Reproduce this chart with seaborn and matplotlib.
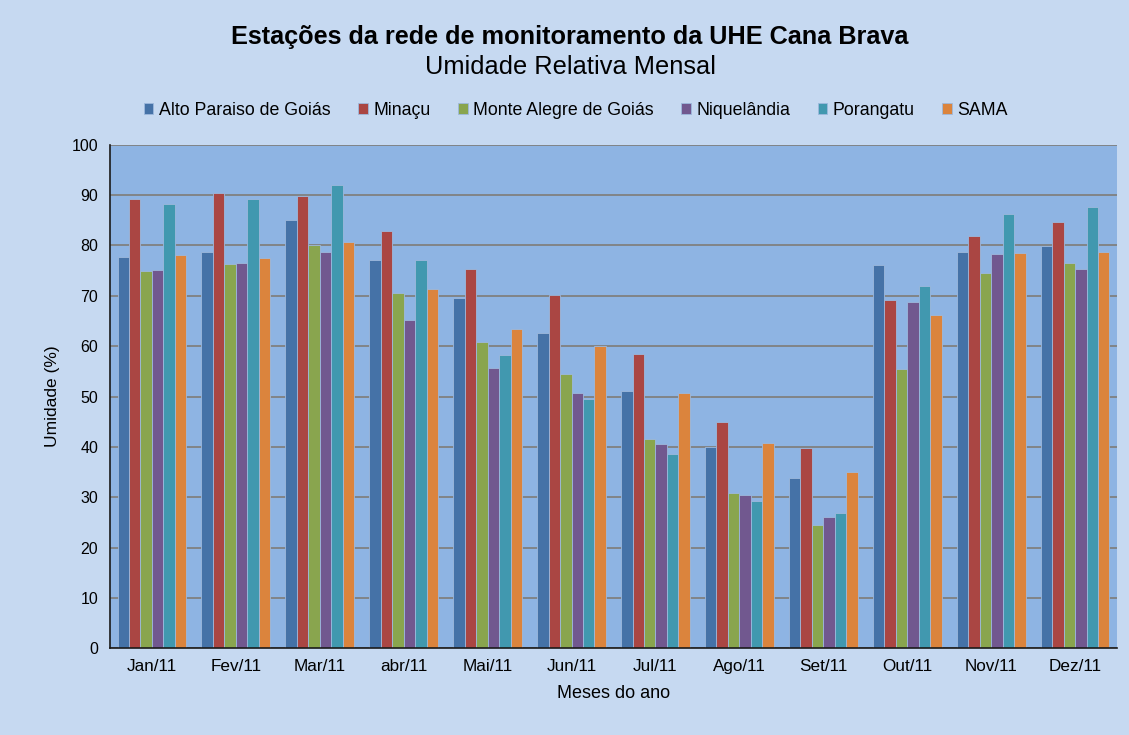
import pandas as pd
import numpy as np
import matplotlib
matplotlib.use("Agg")
import matplotlib.pyplot as plt
import seaborn as sns

meses = ["Jan/11", "Fev/11", "Mar/11", "abr/11", "Mai/11", "Jun/11",
         "Jul/11", "Ago/11", "Set/11", "Out/11", "Nov/11", "Dez/11"]
estacoes = ["Alto Paraiso de Goiás", "Minaçu", "Monte Alegre de Goiás",
            "Niquelândia", "Porangatu", "SAMA"]

alto_paraiso = [77.7, 78.8, 85.0, 77.1, 69.6, 62.7, 51.0, 40.0, 33.8, 76.1, 78.8, 79.9]
minacu = [89.3, 90.4, 89.9, 82.8, 75.3, 70.1, 58.4, 44.9, 39.7, 69.2, 81.8, 84.7]
monte_alegre = [75.0, 76.3, 80.0, 70.6, 60.8, 54.5, 41.6, 30.8, 24.5, 55.4, 74.5, 76.5]
niquelandia = [75.2, 76.6, 78.8, 65.2, 55.6, 50.8, 40.5, 30.5, 26.1, 68.7, 78.3, 75.3]
porangatu = [88.2, 89.3, 92.0, 77.1, 58.3, 49.6, 38.6, 29.2, 26.9, 72.0, 86.3, 87.6]
sama = [78.2, 77.6, 80.6, 71.4, 63.5, 60.0, 50.8, 40.7, 35.1, 66.2, 78.5, 78.8]

cores = ["#4572A7", "#AA4643", "#89A54E", "#71588F", "#4198AF", "#DB843D"]

series = [alto_paraiso, minacu, monte_alegre, niquelandia, porangatu, sama]
rows = []
for est, vals in zip(estacoes, series):
    for m, v in zip(meses, vals):
        rows.append({"mes": m, "estacao": est, "umidade": v})
df = pd.DataFrame(rows)

sns.set_style("white")
plt.rcParams['font.family'] = ['Liberation Sans', 'DejaVu Sans']
plt.rcParams['text.color'] = 'black'
plt.rcParams['axes.labelcolor'] = 'black'
plt.rcParams['xtick.color'] = 'black'
plt.rcParams['ytick.color'] = 'black'

fig = plt.figure(figsize=(11.29, 7.35), dpi=100)
fig.patch.set_facecolor("#C6D9F1")
ax = fig.add_axes([0.0974, 0.118, 0.892, 0.685])
ax.set_facecolor("#8EB4E3")

sns.barplot(data=df, x="mes", y="umidade", hue="estacao", order=meses,
            hue_order=estacoes, palette=cores, width=0.82, gap=0,
            saturation=1, edgecolor="#9DB9DD", linewidth=0.6, ax=ax, legend=True)

ax.set_ylim(0, 100)
ax.set_xlim(-0.5, 11.5)
ax.set_yticks(np.arange(0, 101, 10))
ax.yaxis.grid(True, color="#808080", linewidth=1.3)
ax.set_axisbelow(True)

for side in ["top", "right"]:
    ax.spines[side].set_visible(False)
for side in ["left", "bottom"]:
    ax.spines[side].set_color("#1a1a1a")
    ax.spines[side].set_linewidth(1.2)

ax.tick_params(axis="x", which="major", length=0, labelsize=12.3, pad=8)
ax.set_xticks(np.arange(-0.5, 12, 1), minor=True)
ax.tick_params(axis="x", which="minor", length=5, direction="out", color="#1a1a1a")
ax.tick_params(axis="y", length=5, direction="out", color="#1a1a1a", labelsize=11.5)

ax.set_xlabel("Meses do ano", fontsize=13, labelpad=8)
ax.set_ylabel("Umidade (%)", fontsize=12.5, labelpad=8)

handles, labels = ax.get_legend_handles_labels()
ax.get_legend().remove()
fig.legend(handles, labels, loc="center", bbox_to_anchor=(0.51, 0.85),
           ncol=6, frameon=False, fontsize=12.8, handlelength=0.55,
           handleheight=0.55, handletextpad=0.3, columnspacing=1.55)

fig.text(0.505, 0.949, "Estações da rede de monitoramento da UHE Cana Brava",
         ha="center", va="center", fontsize=18.2, fontweight="bold")
fig.text(0.505, 0.909, "Umidade Relativa Mensal", ha="center", va="center",
         fontsize=18.3)

fig.savefig("out.png", dpi=100, facecolor=fig.get_facecolor())
